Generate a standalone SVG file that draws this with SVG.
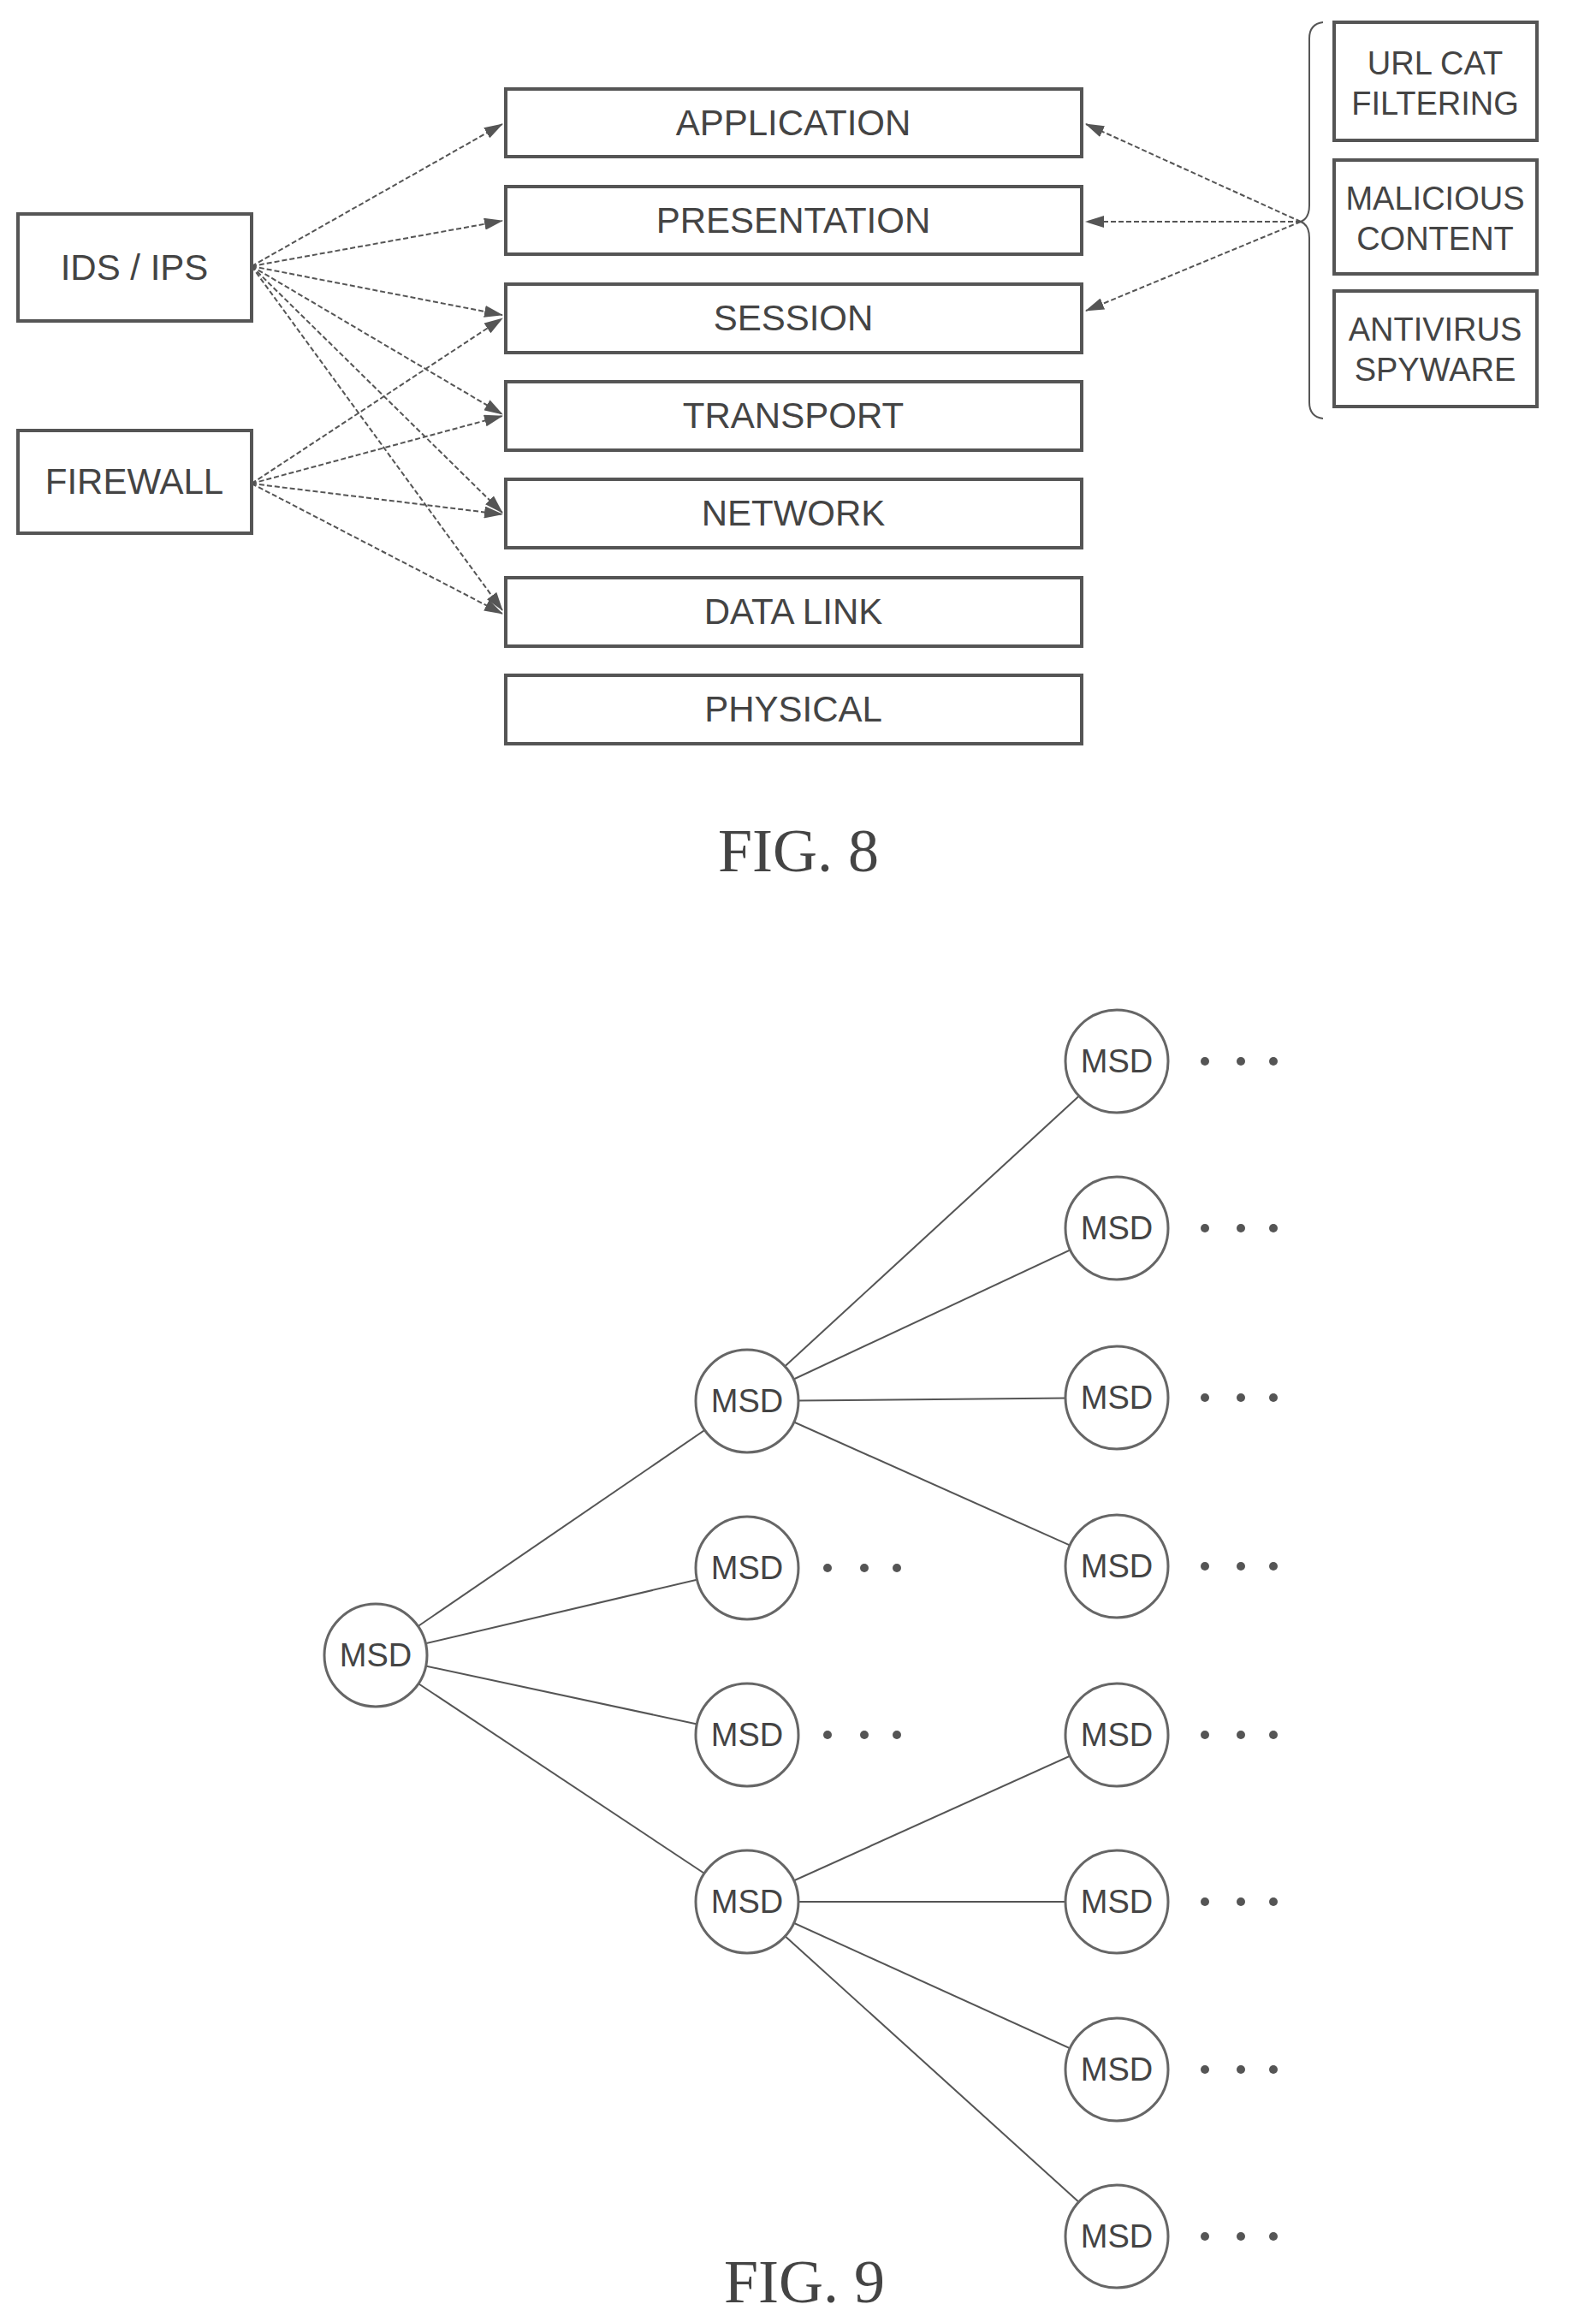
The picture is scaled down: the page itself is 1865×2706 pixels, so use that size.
<svg xmlns="http://www.w3.org/2000/svg" width="1865" height="2706" viewBox="0 0 1865 2706">
<style>
.box{fill:#fff;stroke:#555;stroke-width:4}
.t{font-family:"Liberation Sans",Arial,sans-serif;font-size:42px;fill:#444;text-anchor:middle}
.s{font-size:38px}
.c{fill:#fff;stroke:#666;stroke-width:3}
.m{font-family:"Liberation Sans",Arial,sans-serif;font-size:38px;fill:#444;text-anchor:middle}
.a{stroke:#555;stroke-width:2;stroke-dasharray:6 3;fill:none;marker-end:url(#ah)}
.l{stroke:#555;stroke-width:2;fill:none}
.fig{font-family:"Liberation Serif","Times New Roman",serif;font-size:72px;fill:#444;text-anchor:middle}
.d{fill:#555}
</style>
<defs><marker id="ah" markerWidth="22" markerHeight="14" refX="21" refY="7" orient="auto" markerUnits="userSpaceOnUse"><path d="M0,0 L22,7 L0,14 z" fill="#555"/></marker></defs>
<g id="connectors">
<line class="a" x1="294" y1="311" x2="587" y2="145"/>
<line class="a" x1="294" y1="311" x2="587" y2="258"/>
<line class="a" x1="294" y1="311" x2="587" y2="368"/>
<line class="a" x1="294" y1="311" x2="587" y2="484"/>
<line class="a" x1="294" y1="311" x2="587" y2="599"/>
<line class="a" x1="294" y1="311" x2="587" y2="713"/>
<line class="a" x1="294" y1="565" x2="587" y2="372"/>
<line class="a" x1="294" y1="565" x2="587" y2="486"/>
<line class="a" x1="294" y1="565" x2="587" y2="601"/>
<line class="a" x1="294" y1="565" x2="587" y2="717"/>
<line class="a" x1="1520" y1="259" x2="1269" y2="145"/>
<line class="a" x1="1520" y1="259" x2="1269" y2="259"/>
<line class="a" x1="1520" y1="259" x2="1269" y2="363"/>
<path class="l" d="M1546,26 Q1530,28 1530,45 L1530,240 Q1530,255 1520,259 Q1530,263 1530,278 L1530,470 Q1530,487 1546,489"/>
<line class="l" x1="439" y1="1934" x2="873" y2="1637"/>
<line class="l" x1="439" y1="1934" x2="873" y2="1832"/>
<line class="l" x1="439" y1="1934" x2="873" y2="2027"/>
<line class="l" x1="439" y1="1934" x2="873" y2="2222"/>
<line class="l" x1="873" y1="1637" x2="1305" y2="1240"/>
<line class="l" x1="873" y1="1637" x2="1305" y2="1435"/>
<line class="l" x1="873" y1="1637" x2="1305" y2="1633"/>
<line class="l" x1="873" y1="1637" x2="1305" y2="1830"/>
<line class="l" x1="873" y1="2222" x2="1305" y2="2027"/>
<line class="l" x1="873" y1="2222" x2="1305" y2="2222"/>
<line class="l" x1="873" y1="2222" x2="1305" y2="2418"/>
<line class="l" x1="873" y1="2222" x2="1305" y2="2613"/>
</g>
<g id="ids"><rect class="box" x="21" y="250" width="273" height="125"/><text class="t" x="157" y="327">IDS / IPS</text></g>
<g id="firewall"><rect class="box" x="21" y="503" width="273" height="120"/><text class="t" x="157" y="577">FIREWALL</text></g>
<g id="application"><rect class="box" x="591" y="104" width="673" height="79"/><text class="t" x="927" y="158">APPLICATION</text></g>
<g id="presentation"><rect class="box" x="591" y="218" width="673" height="79"/><text class="t" x="927" y="272">PRESENTATION</text></g>
<g id="session"><rect class="box" x="591" y="332" width="673" height="80"/><text class="t" x="927" y="386">SESSION</text></g>
<g id="transport"><rect class="box" x="591" y="446" width="673" height="80"/><text class="t" x="927" y="500">TRANSPORT</text></g>
<g id="network"><rect class="box" x="591" y="560" width="673" height="80"/><text class="t" x="927" y="614">NETWORK</text></g>
<g id="datalink"><rect class="box" x="591" y="675" width="673" height="80"/><text class="t" x="927" y="729">DATA LINK</text></g>
<g id="physical"><rect class="box" x="591" y="789" width="673" height="80"/><text class="t" x="927" y="843">PHYSICAL</text></g>
<g id="url"><rect class="box" x="1559" y="26" width="237" height="138"/><text class="t s" x="1677" y="87">URL CAT</text><text class="t s" x="1677" y="134">FILTERING</text></g>
<g id="malicious"><rect class="box" x="1559" y="187" width="237" height="133"/><text class="t s" x="1677" y="245">MALICIOUS</text><text class="t s" x="1677" y="292">CONTENT</text></g>
<g id="antivirus"><rect class="box" x="1559" y="340" width="237" height="135"/><text class="t s" x="1677" y="398">ANTIVIRUS</text><text class="t s" x="1677" y="445">SPYWARE</text></g>
<text class="fig" x="933" y="1018">FIG. 8</text>
<g id="root"><circle class="c" cx="439" cy="1934" r="60"/><text class="m" x="439" y="1947">MSD</text></g>
<g id="m1"><circle class="c" cx="873" cy="1637" r="60"/><text class="m" x="873" y="1650">MSD</text></g>
<g id="m2"><circle class="c" cx="873" cy="1832" r="60"/><text class="m" x="873" y="1845">MSD</text></g>
<g id="m3"><circle class="c" cx="873" cy="2027" r="60"/><text class="m" x="873" y="2040">MSD</text></g>
<g id="m4"><circle class="c" cx="873" cy="2222" r="60"/><text class="m" x="873" y="2235">MSD</text></g>
<g id="r1"><circle class="c" cx="1305" cy="1240" r="60"/><text class="m" x="1305" y="1253">MSD</text></g>
<g id="r2"><circle class="c" cx="1305" cy="1435" r="60"/><text class="m" x="1305" y="1448">MSD</text></g>
<g id="r3"><circle class="c" cx="1305" cy="1633" r="60"/><text class="m" x="1305" y="1646">MSD</text></g>
<g id="r4"><circle class="c" cx="1305" cy="1830" r="60"/><text class="m" x="1305" y="1843">MSD</text></g>
<g id="r5"><circle class="c" cx="1305" cy="2027" r="60"/><text class="m" x="1305" y="2040">MSD</text></g>
<g id="r6"><circle class="c" cx="1305" cy="2222" r="60"/><text class="m" x="1305" y="2235">MSD</text></g>
<g id="r7"><circle class="c" cx="1305" cy="2418" r="60"/><text class="m" x="1305" y="2431">MSD</text></g>
<g id="r8"><circle class="c" cx="1305" cy="2613" r="60"/><text class="m" x="1305" y="2626">MSD</text></g>
<g id="dots">
<g class="d"><circle cx="1408" cy="1240" r="5"/><circle cx="1450" cy="1240" r="5"/><circle cx="1488" cy="1240" r="5"/>
<circle cx="1408" cy="1435" r="5"/><circle cx="1450" cy="1435" r="5"/><circle cx="1488" cy="1435" r="5"/>
<circle cx="1408" cy="1633" r="5"/><circle cx="1450" cy="1633" r="5"/><circle cx="1488" cy="1633" r="5"/>
<circle cx="1408" cy="1830" r="5"/><circle cx="1450" cy="1830" r="5"/><circle cx="1488" cy="1830" r="5"/>
<circle cx="1408" cy="2027" r="5"/><circle cx="1450" cy="2027" r="5"/><circle cx="1488" cy="2027" r="5"/>
<circle cx="1408" cy="2222" r="5"/><circle cx="1450" cy="2222" r="5"/><circle cx="1488" cy="2222" r="5"/>
<circle cx="1408" cy="2418" r="5"/><circle cx="1450" cy="2418" r="5"/><circle cx="1488" cy="2418" r="5"/>
<circle cx="1408" cy="2613" r="5"/><circle cx="1450" cy="2613" r="5"/><circle cx="1488" cy="2613" r="5"/>
<circle cx="967" cy="1832" r="5"/><circle cx="1010" cy="1832" r="5"/><circle cx="1048" cy="1832" r="5"/>
<circle cx="967" cy="2027" r="5"/><circle cx="1010" cy="2027" r="5"/><circle cx="1048" cy="2027" r="5"/></g>
</g>
<text class="fig" x="940" y="2690">FIG. 9</text>
</svg>
